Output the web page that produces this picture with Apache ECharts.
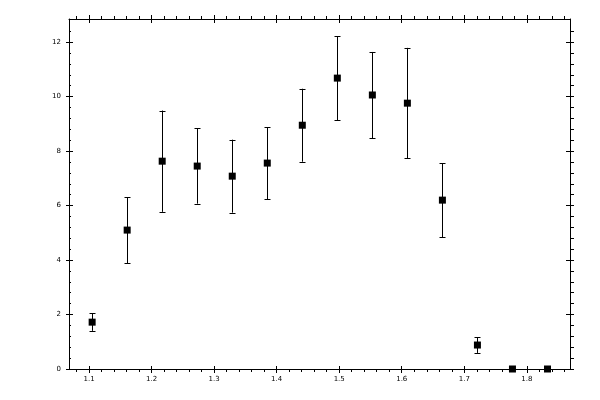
<!DOCTYPE html>
<html>
<head>
<meta charset="utf-8">
<script src="https://cdn.jsdelivr.net/npm/echarts@6/dist/echarts.min.js"></script>
<style>
html,body{margin:0;padding:0;background:#fff;}
#chart{width:600px;height:400px;}
</style>
</head>
<body>
<div id="chart"></div>
<script>
// Data
var xValues = [1.105, 1.161, 1.217, 1.273, 1.329, 1.385, 1.441, 1.497, 1.553, 1.609, 1.665, 1.721, 1.777, 1.833];
var yValues = [1.72, 5.10, 7.63, 7.45, 7.08, 7.56, 8.95, 10.68, 10.06, 9.76, 6.20, 0.88, 0.0, 0.0];
var yErrors = [0.32, 1.21, 1.86, 1.38, 1.34, 1.32, 1.34, 1.54, 1.58, 2.03, 1.36, 0.29, 0, 0];

var xMajorTicks = [1.1, 1.2, 1.3, 1.4, 1.5, 1.6, 1.7, 1.8];
var xTickLabels = ['1.1', '1.2', '1.3', '1.4', '1.5', '1.6', '1.7', '1.8'];
var xMinorTicks = [1.08, 1.12, 1.14, 1.16, 1.18, 1.22, 1.24, 1.26, 1.28, 1.32, 1.34, 1.36, 1.38,
  1.42, 1.44, 1.46, 1.48, 1.52, 1.54, 1.56, 1.58, 1.62, 1.64, 1.66, 1.68,
  1.72, 1.74, 1.76, 1.78, 1.82, 1.84, 1.86];
var yMajorTicks = [0, 2, 4, 6, 8, 10, 12];
var yTickLabels = ['0', '2', '4', '6', '8', '10', '12'];
var yMinorTicks = [0.4, 0.8, 1.2, 1.6, 2.4, 2.8, 3.2, 3.6, 4.4, 4.8, 5.2, 5.6, 6.4, 6.8, 7.2, 7.6,
  8.4, 8.8, 9.2, 9.6, 10.4, 10.8, 11.2, 11.6, 12.4];

var X_MIN = 1.068, X_MAX = 1.869, Y_MIN = 0, Y_MAX = 12.85;

var errData = xValues.map(function (x, i) { return [x, yValues[i] - yErrors[i], yValues[i] + yErrors[i]]; });
var pointData = xValues.map(function (x, i) { return [x, yValues[i]]; });

var lineStyle = { color: '#000', width: 1 };
var labelFont = { color: '#000', fontSize: 7, fontFamily: 'DejaVu Sans' };

function xAxisDef(pos, opts) {
  return {
    type: 'value', position: pos, min: X_MIN, max: X_MAX,
    axisLine: { show: !!opts.line, onZero: false, lineStyle: lineStyle },
    axisTick: { show: true, inside: !!opts.inside, length: opts.len, customValues: opts.ticks, lineStyle: lineStyle },
    axisLabel: opts.labels ? Object.assign({ show: true, margin: 7, customValues: xMajorTicks,
      formatter: function (v) { var k = xMajorTicks.indexOf(+v.toFixed(2)); return k >= 0 ? xTickLabels[k] : ''; } }, labelFont)
      : { show: false },
    splitLine: { show: false }
  };
}
function yAxisDef(pos, opts) {
  return {
    type: 'value', position: pos, min: Y_MIN, max: Y_MAX,
    axisLine: { show: !!opts.line, onZero: false, lineStyle: lineStyle },
    axisTick: { show: true, inside: !!opts.inside, length: opts.len, customValues: opts.ticks, lineStyle: lineStyle },
    axisLabel: opts.labels ? Object.assign({ show: true, margin: 8, customValues: yMajorTicks,
      formatter: function (v) { var k = yMajorTicks.indexOf(Math.round(v)); return k >= 0 ? yTickLabels[k] : ''; } }, labelFont)
      : { show: false },
    splitLine: { show: false }
  };
}

var chart = echarts.init(document.getElementById('chart'));
chart.setOption({
  backgroundColor: '#fff',
  animation: false,
  grid: { left: 69, right: 30, top: 19, bottom: 31, containLabel: false, outerBoundsMode: 'none' },
  xAxis: [
    xAxisDef('bottom', { line: true, labels: true, ticks: xMajorTicks, len: 4 }),
    xAxisDef('bottom', { inside: true, ticks: xMajorTicks, len: 3 }),
    xAxisDef('bottom', { ticks: xMinorTicks, len: 3 }),
    xAxisDef('top', { line: true, ticks: xMajorTicks, len: 4 }),
    xAxisDef('top', { inside: true, ticks: xMajorTicks, len: 4 }),
    xAxisDef('top', { ticks: xMinorTicks, len: 3 })
  ],
  yAxis: [
    yAxisDef('left', { line: true, labels: true, ticks: yMajorTicks, len: 3 }),
    yAxisDef('left', { inside: true, ticks: yMajorTicks, len: 4 }),
    yAxisDef('left', { inside: true, ticks: yMinorTicks, len: 2 }),
    yAxisDef('right', { line: true, ticks: yMajorTicks, len: 4 }),
    yAxisDef('right', { inside: true, ticks: yMajorTicks, len: 4 }),
    yAxisDef('right', { ticks: yMinorTicks, len: 4 })
  ],
  series: [
    {
      type: 'custom',
      xAxisIndex: 0, yAxisIndex: 0,
      data: errData,
      encode: { x: 0, y: [1, 2] },
      renderItem: function (params, api) {
        var x = api.value(0);
        var lo = api.coord([x, api.value(1)]);
        var hi = api.coord([x, api.value(2)]);
        var hw = 3;
        var cx = Math.round(lo[0]) + 0.5;
        return {
          type: 'group',
          children: [
            { type: 'line', shape: { x1: cx, y1: hi[1], x2: cx, y2: lo[1] }, style: { stroke: '#000', lineWidth: 1 } },
            { type: 'line', shape: { x1: cx - hw, y1: Math.round(hi[1]) + 0.5, x2: cx + hw, y2: Math.round(hi[1]) + 0.5 }, style: { stroke: '#000', lineWidth: 1 } },
            { type: 'line', shape: { x1: cx - hw, y1: Math.round(lo[1]) + 0.5, x2: cx + hw, y2: Math.round(lo[1]) + 0.5 }, style: { stroke: '#000', lineWidth: 1 } }
          ]
        };
      },
      z: 2
    },
    {
      type: 'scatter',
      xAxisIndex: 0, yAxisIndex: 0,
      data: pointData,
      symbol: 'rect',
      symbolSize: 7,
      itemStyle: { color: '#000', opacity: 1 },
      z: 3
    }
  ]
});
</script>
</body>
</html>
